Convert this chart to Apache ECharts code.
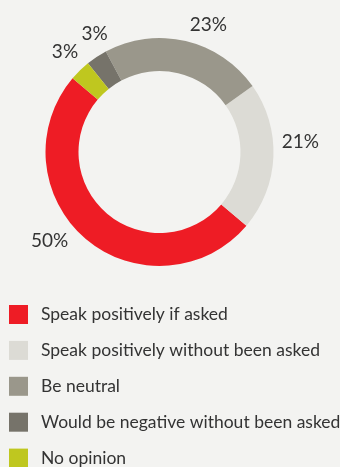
<!DOCTYPE html>
<html>
<head>
<meta charset="utf-8">
<script src="https://cdn.jsdelivr.net/npm/echarts@6/dist/echarts.min.js"></script>
<style>
  html, body { margin: 0; padding: 0; background: #f3f3f1; }
  #chart { width: 340px; height: 467px; }
</style>
</head>
<body>
<div id="chart"></div>
<script>
// Survey responses, share of respondents (%)
const categories = [
  'Speak positively if asked',
  'Speak positively without been asked',
  'Be neutral',
  'Would be negative without been asked',
  'No opinion'
];
const values = [50, 21, 23, 3, 3];
const colors = ['#ee1c25', '#dcdbd5', '#9a978b', '#76736a', '#bfc71f'];

// Hand nudges for the percentage labels, applied on top of the pie's own placement
const labelNudge = [
  [-3.5, -8.3],
  [-10.7, -15.6],
  [-4.2, -2.9],
  [24, -11.3],
  [16.1, -14.3]
];

const chart = echarts.init(document.getElementById('chart'));
const fontFamily = 'Lato, sans-serif';

chart.setOption({
  backgroundColor: '#f3f3f1',
  animation: false,
  legend: {
    type: 'plain',
    orient: 'vertical',
    left: 9,
    top: 305,
    height: 220,
    padding: 0,
    itemWidth: 19,
    itemHeight: 19,
    itemGap: 16.9,
    icon: 'rect',
    textStyle: { fontFamily, fontSize: 17.5, color: '#333', padding: [6, 0, 0, 8] },
    data: categories
  },
  series: [{
    type: 'pie',
    center: [159.5, 152],
    radius: [81, 114],
    startAngle: 139.7,
    clockwise: false,
    silent: true,
    label: {
      show: true,
      position: 'outside',
      formatter: '{c}%',
      fontFamily,
      fontSize: 19,
      color: '#333'
    },
    labelLine: { show: false, length: 14, length2: 0 },
    labelLayout: function (p) {
      const n = labelNudge[p.dataIndex];
      return { dx: n[0], dy: n[1] };
    },
    data: categories.map((name, i) => ({
      name,
      value: values[i],
      itemStyle: { color: colors[i] }
    }))
  }]
});
</script>
</body>
</html>
